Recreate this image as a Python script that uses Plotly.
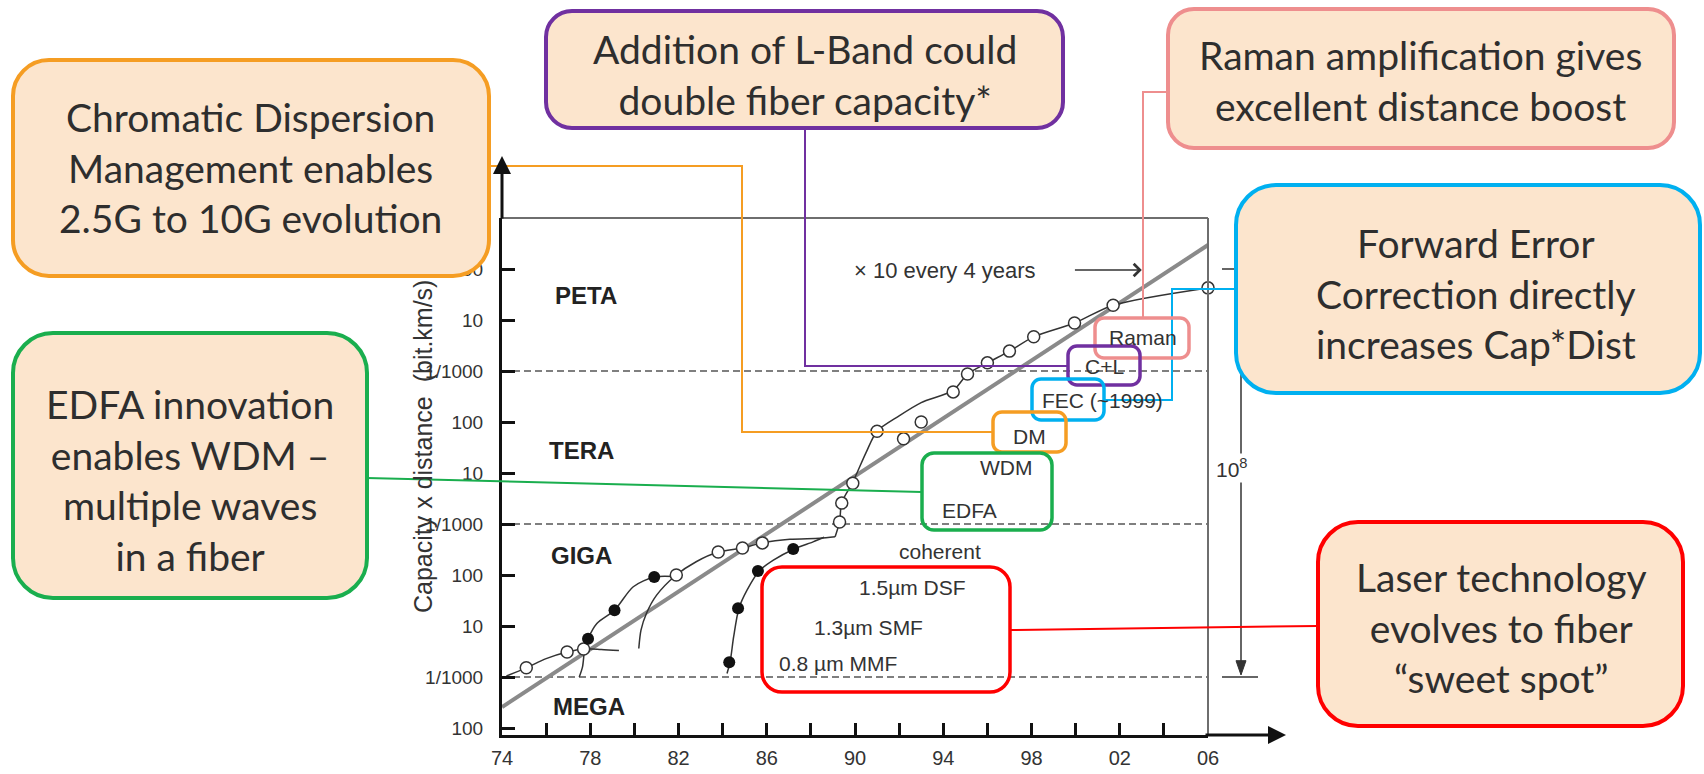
import plotly.graph_objects as go

W, H = 1704, 774

# ---------------- data (year, log10 of capacity x distance in bit.km/s) ----------------
years_open = [1975.1, 1976.95, 1977.7, 1981.9, 1983.8, 1984.9, 1985.8, 1989.3, 1989.4, 1989.9,
              1991.0, 1992.2, 1993.0, 1994.45, 1995.1, 1996.0, 1997.0, 1998.1, 1999.95, 2001.7, 2006.0]
cxd_open = [9.18, 9.49, 9.55, 11.0, 11.45, 11.53, 11.63, 12.04, 12.41, 12.8,
            13.82, 13.67, 14.0, 14.59, 14.94, 15.16, 15.39, 15.67, 15.94, 16.29, 16.63]

years_filled = [1977.9, 1979.1, 1980.9, 1984.3, 1984.7, 1985.6, 1987.2]
cxd_filled = [9.75, 10.31, 10.96, 9.29, 10.35, 11.08, 11.51]

trend_years = [1974, 2006]
trend_cxd = [8.41, 17.47]

curve_mmf_years = [1974.2, 1975.1, 1976.0, 1976.95, 1977.7, 1978.5, 1979.3]
curve_mmf_cxd = [9.02, 9.18, 9.36, 9.49, 9.55, 9.54, 9.52]

curve_smf1_years = [1977.5, 1977.65, 1977.75, 1977.9, 1978.3, 1979.1, 1979.95, 1980.9, 1981.8]
curve_smf1_cxd = [9.0, 9.2, 9.55, 9.75, 10.05, 10.31, 10.77, 10.96, 10.97]

curve_smf2_years = [1980.2, 1980.3, 1980.55, 1981.0, 1981.9, 1982.8, 1983.8, 1984.9, 1985.8,
                    1987.05, 1988.4, 1989.1]
curve_smf2_cxd = [9.56, 9.92, 10.25, 10.6, 11.0, 11.26, 11.45, 11.53, 11.63, 11.70, 11.72, 11.75]

curve_dsf_years = [1984.2, 1984.34, 1984.5, 1984.74, 1985.1, 1985.66, 1986.3, 1987.24, 1988.1, 1988.6]
curve_dsf_cxd = [9.07, 9.3, 9.79, 10.35, 10.7, 11.08, 11.29, 11.51, 11.65, 11.74]

curve_wdm_years = [1989.1, 1989.3, 1989.4, 1989.9, 1990.5, 1991.0, 1992.0, 1993.0, 1994.45, 1995.1,
                   1996.0, 1997.0, 1998.1, 1999.95, 2001.7, 2006.0]
curve_wdm_cxd = [11.75, 12.04, 12.42, 12.82, 13.4, 13.82, 14.12, 14.38, 14.62, 14.94,
                 15.16, 15.39, 15.67, 15.94, 16.29, 16.63]

x_tick_vals = list(range(1974, 2007, 2))
x_tick_text = ['74', '', '78', '', '82', '', '86', '', '90', '', '94', '', '98', '', '02', '', '06']
y_tick_vals = [8, 9, 10, 11, 12, 13, 14, 15, 16, 17, 18]
y_tick_text = ['100', '1/1000', '10', '100', '1/1000', '10', '100', '1/1000', '10', '100', '']

boundaries = [9, 12, 15]          # 1 G, 1 T, 1 P
span_top, span_bottom = 17, 9     # 10^8 bracket

zone_names = ['PETA', 'TERA', 'GIGA', 'MEGA']
tech_labels = ['coherent', '1.5µm DSF', '1.3µm SMF', '0.8 µm MMF', 'WDM', 'EDFA', 'DM',
               'FEC (~1999)', 'C+L', 'Raman']

# ---------------- helpers for layout (pixel -> paper) ----------------
def P(px):
    return px / W


def Q(py):
    return 1 - py / H


def rrect(x0, y0, x1, y1, r):
    k = 0.5523 * r
    pts = [
        f"M{P(x0 + r)},{Q(y0)}",
        f"L{P(x1 - r)},{Q(y0)}",
        f"C{P(x1 - r + k)},{Q(y0)} {P(x1)},{Q(y0 + r - k)} {P(x1)},{Q(y0 + r)}",
        f"L{P(x1)},{Q(y1 - r)}",
        f"C{P(x1)},{Q(y1 - r + k)} {P(x1 - r + k)},{Q(y1)} {P(x1 - r)},{Q(y1)}",
        f"L{P(x0 + r)},{Q(y1)}",
        f"C{P(x0 + r - k)},{Q(y1)} {P(x0)},{Q(y1 - r + k)} {P(x0)},{Q(y1 - r)}",
        f"L{P(x0)},{Q(y0 + r)}",
        f"C{P(x0)},{Q(y0 + r - k)} {P(x0 + r - k)},{Q(y0)} {P(x0 + r)},{Q(y0)}",
        "Z",
    ]
    return " ".join(pts)


def poly(points):
    return "M" + " L".join(f"{P(x)},{Q(y)}" for x, y in points)


C_OR, C_PU, C_PK, C_BL, C_GR, C_RD = '#F59D23', '#7030A0', '#EE8E8E', '#00B0F0', '#1AAE4E', '#FF0000'
FILL = '#FCE5CD'
TXT = '#2E2E2E'
ARIAL = 'Liberation Sans, Arial, sans-serif'
BOXFONT = 'Lato, Calibri, sans-serif'

fig = go.Figure()

# trend line
fig.add_trace(go.Scatter(x=trend_years, y=trend_cxd, mode='lines',
                         line=dict(color='#8a8a8a', width=4), hoverinfo='skip'))
# technology curves
for xs, ys in [(curve_mmf_years, curve_mmf_cxd), (curve_smf1_years, curve_smf1_cxd),
               (curve_smf2_years, curve_smf2_cxd), (curve_dsf_years, curve_dsf_cxd),
               (curve_wdm_years, curve_wdm_cxd)]:
    fig.add_trace(go.Scatter(x=xs, y=ys, mode='lines',
                             line=dict(color='#333333', width=1.5, shape='spline', smoothing=0.8),
                             hoverinfo='skip'))
# data points
fig.add_trace(go.Scatter(x=years_open, y=cxd_open, mode='markers', cliponaxis=False,
                         marker=dict(symbol='circle', size=12, color='white',
                                     line=dict(color='#333333', width=1.5))))
fig.add_trace(go.Scatter(x=years_filled, y=cxd_filled, mode='markers', cliponaxis=False,
                         marker=dict(symbol='circle', size=12, color='#111111')))

shapes = []
# dashed boundaries
for b in boundaries:
    shapes.append(dict(type='line', xref='x domain', yref='y', x0=0, x1=1, y0=b, y1=b,
                       line=dict(color='#555555', width=1.5, dash='7px,4px'), layer='below'))
# frame
shapes.append(dict(type='line', xref='x domain', yref='y domain', x0=0, x1=1, y0=1, y1=1,
                   line=dict(color='#6e6e6e', width=2)))
shapes.append(dict(type='line', xref='x domain', yref='y domain', x0=1, x1=1, y0=0, y1=1,
                   line=dict(color='#6e6e6e', width=2)))
# 10^8 bracket
shapes.append(dict(type='line', xref='paper', yref='y', x0=P(1222), x1=P(1246), y0=span_top, y1=span_top,
                   line=dict(color='#333333', width=1.5)))
shapes.append(dict(type='line', xref='paper', yref='y', x0=P(1222), x1=P(1258), y0=span_bottom, y1=span_bottom,
                   line=dict(color='#333333', width=1.5)))
shapes.append(dict(type='line', xref='paper', yref='y', x0=P(1241), x1=P(1241), y0=span_top, y1=span_bottom + 0.25,
                   line=dict(color='#333333', width=1.5)))
shapes.append(dict(type='path', xref='paper', yref='y',
                   path=f"M{P(1236)},{span_bottom + 0.32} L{P(1246)},{span_bottom + 0.32} L{P(1241)},{span_bottom + 0.04} Z",
                   fillcolor='#333333', line=dict(color='#333333', width=1)))

# connectors
for pts, col in [([(489, 166), (742, 166), (742, 432), (993, 432)], C_OR),
                 ([(805, 128), (805, 366), (1068, 366)], C_PU),
                 ([(1143, 318), (1143, 92), (1168, 92)], C_PK),
                 ([(1104, 400), (1172, 400), (1172, 289), (1236, 289)], C_BL),
                 ([(367, 478), (922, 492)], C_GR),
                 ([(1010, 630), (1318, 626)], C_RD)]:
    shapes.append(dict(type='path', xref='paper', yref='paper', path=poly(pts),
                       line=dict(color=col, width=2)))

# small in-chart boxes
for (x0, y0, x1, y1, r), col in [((1095, 318, 1189, 358, 9), C_PK),
                                 ((1068, 346, 1140, 385, 9), C_PU),
                                 ((1032, 379, 1104, 420, 9), C_BL),
                                 ((993, 412, 1066, 452, 9), C_OR),
                                 ((922, 453, 1052, 530, 12), C_GR),
                                 ((762, 567, 1010, 692, 20), C_RD)]:
    shapes.append(dict(type='path', xref='paper', yref='paper', path=rrect(x0, y0, x1, y1, r),
                       line=dict(color=col, width=3.5), fillcolor='rgba(0,0,0,0)'))

# big callout boxes
big = [((13, 60, 489, 276, 36), C_OR, (250, 168),
        'Chromatic Dispersion<br>Management enables<br>2.5G to 10G evolution'),
       ((546, 11, 1063, 128, 26), C_PU, (805, 74),
        'Addition of L-Band could<br>double fiber capacity*'),
       ((1168, 9, 1674, 148, 26), C_PK, (1420, 80),
        'Raman amplification gives<br>excellent distance boost'),
       ((1236, 185, 1700, 393, 40), C_BL, (1476, 293),
        'Forward Error<br>Correction directly<br>increases Cap*Dist'),
       ((13, 333, 367, 598, 40), C_GR, (190, 480),
        'EDFA innovation<br>enables WDM –<br>multiple waves<br>in a fiber'),
       ((1318, 522, 1683, 726, 40), C_RD, (1501, 627),
        'Laser technology<br>evolves to fiber<br>“sweet spot”')]
annotations = []
for (x0, y0, x1, y1, r), col, (cx, cy), txt in big:
    shapes.append(dict(type='path', xref='paper', yref='paper', path=rrect(x0, y0, x1, y1, r),
                       line=dict(color=col, width=4), fillcolor=FILL))
    annotations.append(dict(xref='paper', yref='paper', x=P(cx), y=Q(cy), text=txt, showarrow=False,
                            xanchor='center', yanchor='middle', align='center',
                            font=dict(family=BOXFONT, size=39, color=TXT)))

# zone labels
for name, (zx, zy) in zip(zone_names, [(1977.8, 16.49), (1977.6, 13.45), (1977.6, 11.39), (1977.95, 8.43)]):
    annotations.append(dict(x=zx, y=zy, text=f'<b>{name}</b>', showarrow=False,
                            font=dict(family=ARIAL, size=24, color='#222222')))

# technology labels
lab_pos = [(1991.9, 11.47, 'left'), (1990.1, 10.76, 'left'), (1988.05, 9.98, 'left'),
           (1986.47, 9.27, 'left'), (1995.58, 13.10, 'left'), (1993.86, 12.27, 'left'),
           (1997.93, 13.71, 'center'), (1998.39, 14.43, 'left'), (2001.33, 15.08, 'center'),
           (2003.06, 15.65, 'center')]
for txt, (lx, ly, anc) in zip(tech_labels, lab_pos):
    annotations.append(dict(x=lx, y=ly, text=txt, showarrow=False, xanchor=anc,
                            font=dict(family=ARIAL, size=21, color='#333333')))

# trend label and arrow
annotations.append(dict(x=1989.87, y=16.98, text='× 10 every 4 years', showarrow=False, xanchor='left',
                        font=dict(family=ARIAL, size=22, color='#333333')))
annotations.append(dict(x=2003.0, y=16.98, ax=1999.9, ay=16.98, axref='x', ayref='y', text='',
                        showarrow=True, arrowhead=4, arrowsize=1.6, arrowwidth=1.5, arrowcolor='#333333'))
# 10^8 label
annotations.append(dict(xref='paper', yref='y', x=P(1250), y=13.1, text='10<sup>8</sup>', showarrow=False,
                        bgcolor='white', font=dict(family=ARIAL, size=21, color='#333333')))
# axis arrows
annotations.append(dict(xref='paper', yref='paper', x=P(502), y=Q(156), ax=0, ay=64, text='',
                        showarrow=True, arrowhead=2, arrowsize=1.2, arrowwidth=3, arrowcolor='#111111'))
annotations.append(dict(xref='paper', yref='paper', x=P(1286), y=Q(735), ax=-82, ay=0, text='',
                        showarrow=True, arrowhead=2, arrowsize=1.2, arrowwidth=3, arrowcolor='#111111'))
# y-axis title
annotations.append(dict(xref='paper', yref='paper', x=P(407), y=Q(447),
                        text='Capacity x distance\u00a0\u00a0(bit.km/s)',
                        textangle=-90, showarrow=False,
                        font=dict(family=ARIAL, size=25, color='#333333')))

fig.update_layout(
    template='none', width=W, height=H, margin=dict(l=0, r=0, t=0, b=0),
    paper_bgcolor='white', plot_bgcolor='white', showlegend=False, hovermode=False,
    xaxis=dict(domain=[502 / W, 1208 / W], range=[1974, 2006], showgrid=False, zeroline=False,
               showline=True, linecolor='#111111', linewidth=3, ticks='inside', ticklen=12,
               tickwidth=3, tickcolor='#111111', tickvals=x_tick_vals, ticktext=x_tick_text,
               ticklabelstandoff=3, automargin=False,
               tickfont=dict(family=ARIAL, size=20, color='#333333')),
    yaxis=dict(domain=[1 - 735 / H, 1 - 218 / H], range=[7.863, 18], showgrid=False, zeroline=False,
               showline=True, linecolor='#111111', linewidth=3, ticks='inside', ticklen=13,
               tickwidth=3, tickcolor='#111111', tickvals=y_tick_vals, ticktext=y_tick_text,
               ticklabelstandoff=12, automargin=False,
               tickfont=dict(family=ARIAL, size=19, color='#333333')),
    shapes=shapes, annotations=annotations,
)

fig.write_html("out.html", config={'displayModeBar': False},
               post_script="document.body.style.margin='0';")
